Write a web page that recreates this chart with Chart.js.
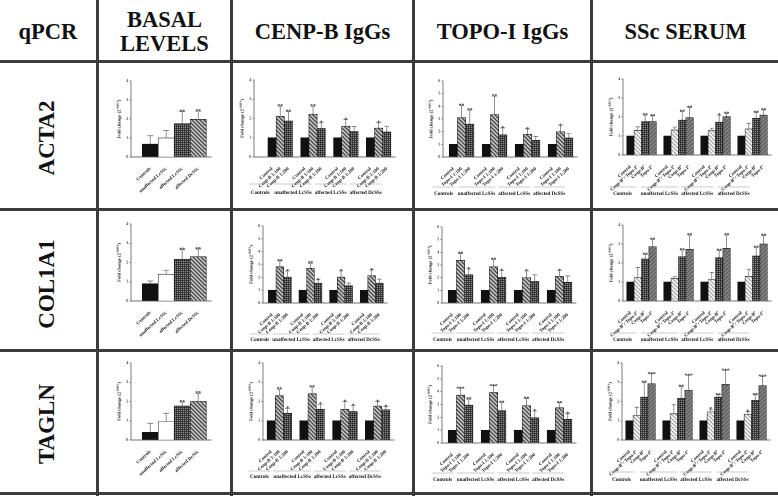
<!DOCTYPE html>
<html>
<head>
<meta charset="utf-8">
<script src="https://cdn.jsdelivr.net/npm/chart.js@4.4.0/dist/chart.umd.min.js"></script>
<style>
  body { margin: 0; width: 778px; height: 496px; overflow: hidden; position: relative; background: #fff;
         font-family: "Liberation Serif", "DejaVu Serif", serif; color: #111; }
  .vl, .hl { position: absolute; background: #3c3c3c; z-index: 5; }
  .head { position: absolute; top: 0; height: 61px; display: flex; align-items: center; justify-content: center;
          text-align: center; font-weight: bold; font-size: 22.5px; line-height: 24px; padding-top: 3px; box-sizing: border-box; }
  .gene { position: absolute; left: 47px; font-weight: bold; font-size: 23px; white-space: nowrap;
          transform: translate(-50%, -50%) rotate(-90deg); }
  canvas { position: absolute; }
</style>
</head>
<body>
<div class="vl" style="left:96px;top:0;width:3px;height:496px"></div>
<div class="vl" style="left:230px;top:0;width:3px;height:496px"></div>
<div class="vl" style="left:412px;top:0;width:3px;height:496px"></div>
<div class="vl" style="left:590px;top:0;width:3px;height:496px"></div>
<div class="hl" style="left:0;top:60px;width:778px;height:3px"></div>
<div class="hl" style="left:0;top:208px;width:778px;height:3px"></div>
<div class="hl" style="left:0;top:349px;width:778px;height:3px"></div>
<div class="hl" style="left:0;top:492px;width:778px;height:3px"></div>

<div class="head" style="left:0;width:96px">qPCR</div>
<div class="head" style="left:99px;width:131px">BASAL<br>LEVELS</div>
<div class="head" style="left:233px;width:179px">CENP-B IgGs</div>
<div class="head" style="left:415px;width:175px">TOPO-I IgGs</div>
<div class="head" style="left:593px;width:185px">SSc SERUM</div>

<div class="gene" style="top:138px">ACTA2</div>
<div class="gene" style="top:284px">COL1A1</div>
<div class="gene" style="top:424px">TAGLN</div>

<canvas id="c11"></canvas><canvas id="c12"></canvas><canvas id="c13"></canvas><canvas id="c14"></canvas>
<canvas id="c21"></canvas><canvas id="c22"></canvas><canvas id="c23"></canvas><canvas id="c24"></canvas>
<canvas id="c31"></canvas><canvas id="c32"></canvas><canvas id="c33"></canvas><canvas id="c34"></canvas>

<script>
// categories
const basalCats = ['Controls', 'unaffected LcSSc', 'affected LcSSc', 'affected DcSSc'];
const cenpCats = ['Control', 'Cenp-B 1:100', 'Cenp-B 1:200'];
const topoCats = ['Control', 'Topo-I 1:100', 'Topo-I 1:200'];
const serumCats = ['Control', 'Cenp-B\u207A/ Topo-I\u207A', 'Cenp-B\u207A', 'Topo-I\u207A'];
const groupNames = ['Controls', 'unaffected LcSSs', 'affected LcSSs', 'affected DcSSs'];
const yTicks4 = [0, 1, 2, 3, 4];
const yTicks6 = [0, 1, 2, 3, 4, 5, 6];

// ACTA2
const acta2Basal = [0.68, 1.0, 1.75, 1.98];
const acta2BasalErr = [0.44, 0.4, 0.65, 0.43];
const acta2BasalSig = ['', '', '**', '**'];
const acta2Cenp = [1, 2.12, 1.87, 1, 2.22, 1.48, 1, 1.6, 1.33, 1, 1.5, 1.3];
const acta2CenpErr = [0, 0.52, 0.5, 0, 0.42, 0.3, 0, 0.35, 0.26, 0, 0.28, 0.3];
const acta2CenpSig = ['', '**', '**', '', '**', '*', '', '*', '', '', '*', ''];
const acta2Topo = [1, 3.1, 2.6, 1, 3.35, 1.75, 1, 1.8, 1.32, 1, 2.0, 1.5];
const acta2TopoErr = [0, 0.95, 1.1, 0, 1.45, 0.55, 0, 0.42, 0.3, 0, 0.5, 0.35];
const acta2TopoSig = ['', '**', '**', '', '**', '*', '', '*', '', '', '*', ''];
const acta2Serum = [1, 1.3, 1.76, 1.76, 1, 1.32, 1.84, 1.97, 1, 1.29, 1.72, 2.02, 1, 1.37, 1.93, 2.1];
const acta2SerumErr = [0, 0.18, 0.34, 0.3, 0, 0.15, 0.44, 0.53, 0, 0.12, 0.38, 0.17, 0, 0.3, 0.3, 0.27];
const acta2SerumSig = ['', '', '**', '**', '', '', '**', '**', '', '', '*', '**', '', '', '**', '**'];

// COL1A1
const col1a1Basal = [0.9, 1.39, 2.17, 2.3];
const col1a1BasalErr = [0.14, 0.21, 0.5, 0.4];
const col1a1BasalSig = ['', '', '**', '**'];
const col1a1Cenp = [1, 2.82, 2.02, 1, 2.71, 1.55, 1, 2.02, 1.34, 1, 2.14, 1.55];
const col1a1CenpErr = [0, 0.46, 0.48, 0, 0.39, 0.26, 0, 0.48, 0.21, 0, 0.44, 0.31];
const col1a1CenpSig = ['', '**', '*', '', '**', '*', '', '*', '', '', '*', ''];
const col1a1Topo = [1, 3.37, 2.22, 1, 2.87, 2.04, 1, 2.01, 1.7, 1, 2.11, 1.64];
const col1a1TopoErr = [0, 0.55, 0.47, 0, 0.58, 0.52, 0, 0.52, 0.52, 0, 0.47, 0.5];
const col1a1TopoSig = ['', '**', '*', '', '**', '*', '', '*', '', '', '*', ''];
const col1a1Serum = [1, 1.23, 2.21, 2.86, 1, 1.19, 2.33, 2.72, 1, 1.12, 2.28, 2.77, 1, 1.3, 2.37, 3.0];
const col1a1SerumErr = [0, 0.54, 0.25, 0.39, 0, 0.09, 0.35, 0.75, 0, 0.38, 0.37, 0.7, 0, 0.37, 0.45, 0.44];
const col1a1SerumSig = ['', '', '**', '**', '', '', '**', '**', '', '', '**', '**', '', '', '**', '**'];

// TAGLN
const taglnBasal = [0.4, 0.96, 1.77, 2.0];
const taglnBasalErr = [0.47, 0.43, 0.2, 0.43];
const taglnBasalSig = ['', '', '**', '**'];
const taglnCenp = [1, 2.3, 1.39, 1, 2.4, 1.6, 1, 1.6, 1.48, 1, 1.76, 1.57];
const taglnCenpErr = [0, 0.34, 0.26, 0, 0.35, 0.26, 0, 0.4, 0.31, 0, 0.24, 0.17];
const taglnCenpSig = ['', '**', '*', '', '**', '*', '', '*', '*', '', '*', '*'];
const taglnTopo = [1, 3.73, 2.95, 1, 3.94, 2.53, 1, 2.9, 1.96, 1, 2.74, 1.85];
const taglnTopoErr = [0, 0.53, 0.47, 0, 0.52, 0.63, 0, 0.57, 0.54, 0, 0.39, 0.45];
const taglnTopoSig = ['', '***', '**', '', '***', '**', '', '**', '*', '', '**', '*'];
const taglnSerum = [1, 1.27, 2.23, 2.92, 1, 1.36, 2.17, 2.59, 1, 1.46, 2.23, 2.9, 1, 1.34, 2.07, 2.82];
const taglnSerumErr = [0, 0.43, 0.77, 0.52, 0, 0.47, 0.61, 0.77, 0, 0.14, 0.12, 0.7, 0, 0.14, 0.28, 0.48];
const taglnSerumSig = ['', '', '**', '***', '', '', '**', '***', '', '*', '**', '***', '', '*', '**', '***'];

// bar fills
function makePattern(kind) {
    const c = document.createElement('canvas');
    c.width = 4; c.height = 4;
    const g = c.getContext('2d');
    if (kind === 'checker') {
        g.fillStyle = '#1c1c1c'; g.fillRect(0, 0, 4, 4);
        g.fillStyle = '#e6e6e6';
        g.fillRect(0, 0, 1, 1); g.fillRect(2, 0, 1, 1); g.fillRect(0, 2, 1, 1); g.fillRect(2, 2, 1, 1);
    } else {
        const bg = kind === 'gray' ? '#9a9a9a' : '#fff';
        const fg = kind === 'gray' ? '#4a4a4a' : (kind === 'thin' ? '#333' : '#111');
        g.fillStyle = bg; g.fillRect(0, 0, 4, 4);
        g.strokeStyle = fg;
        g.lineWidth = kind === 'thin' ? 0.8 : 1.3;
        g.beginPath();
        if (kind === 'gray') {
            g.moveTo(-1, 5); g.lineTo(5, -1); g.moveTo(-1, 1); g.lineTo(1, -1); g.moveTo(3, 5); g.lineTo(5, 3);
        } else {
            g.moveTo(-1, -1); g.lineTo(5, 5); g.moveTo(-1, 3); g.lineTo(1, 5); g.moveTo(3, -1); g.lineTo(5, 1);
        }
        g.stroke();
    }
    return g.createPattern(c, 'repeat');
}
const BLACK = '#111', WHITE = '#fff';
const CHECK = makePattern('checker'), BACK = makePattern('back');
const THIN = makePattern('thin'), GRAYF = makePattern('gray');
const basalFills = [BLACK, WHITE, CHECK, BACK];
const ivigFills = [BLACK, BACK, CHECK];
const serumFills = [BLACK, THIN, CHECK, GRAYF];

const FONT = 'Liberation Serif';
const YW = 14;

const extras = {
    id: 'extras',
    afterDatasetsDraw(chart) {
        const ctx = chart.ctx, ds = chart.data.datasets[0], ys = chart.scales.y;
        ctx.save();
        chart.getDatasetMeta(0).data.forEach((bar, i) => {
            let top = bar.y;
            const e = ds.err[i];
            if (e > 0) {
                top = ys.getPixelForValue(ds.data[i].y + e);
                const cap = Math.min(bar.width * 0.3, 3);
                ctx.strokeStyle = '#666';
                ctx.lineWidth = 0.7;
                ctx.beginPath();
                ctx.moveTo(bar.x, bar.y); ctx.lineTo(bar.x, top);
                ctx.moveTo(bar.x - cap, top); ctx.lineTo(bar.x + cap, top);
                ctx.stroke();
            }
            if (ds.sig[i]) {
                ctx.fillStyle = '#222';
                ctx.font = 'bold 5.5px "' + FONT + '"';
                ctx.textAlign = 'center';
                ctx.textBaseline = 'alphabetic';
                ctx.fillText(ds.sig[i], bar.x, top + 1.5);
            }
        });
        ctx.restore();
    },
    afterDraw(chart) {
        const ctx = chart.ctx, a = chart.chartArea, xs = chart.scales.x;
        const spec = chart.options.plugins.extras;
        ctx.save();
        // y title with superscript
        ctx.translate(a.left - 12, (a.top + a.bottom) / 2);
        ctx.rotate(-Math.PI / 2);
        ctx.fillStyle = '#111';
        ctx.textBaseline = 'alphabetic';
        const f1 = 'bold 4.6px "' + FONT + '"', f2 = 'bold 3.2px "' + FONT + '"';
        const p1 = 'Fold change (2', p2 = '-\u0394\u0394Ct', p3 = ')';
        ctx.font = f1; const w1 = ctx.measureText(p1).width, w3 = ctx.measureText(p3).width;
        ctx.font = f2; const w2 = ctx.measureText(p2).width;
        let x0 = -(w1 + w2 + w3) / 2;
        ctx.font = f1; ctx.textAlign = 'left';
        ctx.fillText(p1, x0, 1.5);
        ctx.font = f2; ctx.fillText(p2, x0 + w1, -0.6);
        ctx.font = f1; ctx.fillText(p3, x0 + w1 + w2, 1.5);
        ctx.restore();

        if (!spec.groups) return;
        const n = spec.n;
        ctx.save();
        ctx.font = 'bold 5.1px "' + FONT + '"';
        // label centres under the slanted tick labels, pushed apart so they do not overlap
        let prevRight = -Infinity;
        groupNames.forEach((name, g) => {
            const first = g * (n + 1) + 1, last = first + n - 1;
            const s = xs.getPixelForValue(first - 0.5), e = xs.getPixelForValue(last + 0.5);
            const lw = ctx.measureText(name).width;
            let c = (s + e) / 2 - spec.shift;
            if (c - lw / 2 < prevRight + 3) c = prevRight + 3 + lw / 2;
            prevRight = c + lw / 2;
            const half = Math.max(lw, e - s - 3) / 2;
            ctx.strokeStyle = '#999';
            ctx.lineWidth = 0.6;
            ctx.beginPath();
            ctx.moveTo(c - half, a.bottom + spec.lineDy); ctx.lineTo(c + half, a.bottom + spec.lineDy);
            ctx.stroke();
            ctx.fillStyle = '#111';
            ctx.textAlign = 'center';
            ctx.fillText(name, c, a.bottom + spec.labelDy);
        });
        ctx.restore();
    }
};

function buildChart(id, cell, plot, spec) {
    const cv = document.getElementById(id);
    const [cx, cy, cw, ch] = cell;
    cv.width = cw; cv.height = ch;
    cv.style.left = cx + 'px'; cv.style.top = cy + 'px';
    cv.style.width = cw + 'px'; cv.style.height = ch + 'px';
    const [l, t, r, b] = plot;
    const n = spec.cats.length;
    const pos = spec.values.map((v, i) => Math.floor(i / n) * (n + 1) + (i % n) + 1);
    const labelAt = {};
    pos.forEach((p, i) => { labelAt[p] = spec.cats[i % n]; });
    const XH = cy + ch - b;

    new Chart(cv, {
        type: 'bar',
        data: {
            datasets: [{
                data: spec.values.map((v, i) => ({ x: pos[i], y: v })),
                err: spec.err,
                sig: spec.sig,
                backgroundColor: spec.values.map((v, i) => spec.fills[i % n]),
                borderColor: '#111',
                borderWidth: 0.6,
                barPercentage: 1,
                categoryPercentage: 1
            }]
        },
        options: {
            responsive: false,
            animation: false,
            devicePixelRatio: 2,
            layout: { padding: { left: l - cx - YW, top: t - cy, right: cx + cw - r, bottom: 0 } },
            plugins: {
                legend: { display: false },
                tooltip: { enabled: false },
                extras: { groups: spec.groups, n: n, shift: spec.shift || 0, lineDy: spec.lineDy || 0, labelDy: spec.labelDy || 0 }
            },
            scales: {
                x: {
                    type: 'linear',
                    min: spec.xMin,
                    max: spec.xMax,
                    offset: false,
                    grid: { display: false },
                    border: { display: true, color: '#444', width: 0.7 },
                    afterBuildTicks: s => { s.ticks = pos.map(v => ({ value: v })); },
                    afterFit: s => { s.height = XH; s.paddingLeft = 0; s.paddingRight = 0; },
                    ticks: {
                        autoSkip: false, minRotation: 42, maxRotation: 42, padding: 1,
                        color: '#1a1a1a', font: { family: FONT, weight: 'bold', size: 4.8 },
                        callback: v => labelAt[v] || ''
                    }
                },
                y: {
                    min: 0,
                    max: spec.yTicks[spec.yTicks.length - 1],
                    afterBuildTicks: s => { s.ticks = spec.yTicks.map(v => ({ value: v })); },
                    afterFit: s => { s.width = YW; s.paddingTop = 0; s.paddingBottom = 0; },
                    grid: { drawOnChartArea: false, drawTicks: true, tickLength: 2, color: '#555', lineWidth: 0.5 },
                    border: { display: true, color: '#444', width: 0.7 },
                    ticks: { padding: 1, color: '#333', font: { family: FONT, weight: 'bold', size: 3.6 } }
                }
            }
        },
        plugins: [extras]
    });
}

const cells = {
    c1: [99, 130], c2: [233, 178], c3: [415, 174], c4: [593, 185],
    r1: [63, 144], r2: [211, 137], r3: [352, 139]
};
function cell(c, r) { return [cells[c][0], cells[r][0], cells[c][1], cells[r][1]]; }

const cenpGrp = { groups: true, shift: 20, lineDy: 27, labelDy: 37 };
const topoGrp = { groups: true, shift: 18, lineDy: 30, labelDy: 38 };
const serumGrp = { groups: true, shift: 19, lineDy: 32, labelDy: 40 };

// ACTA2 row
buildChart('c11', cell('c1', 'r1'), [131, 81, 211, 157],
    { cats: basalCats, values: acta2Basal, err: acta2BasalErr, sig: acta2BasalSig, fills: basalFills, yTicks: yTicks4, xMin: -0.2, xMax: 4.8 });
buildChart('c12', cell('c2', 'r1'), [254, 80, 395, 157],
    Object.assign({ cats: cenpCats, values: acta2Cenp, err: acta2CenpErr, sig: acta2CenpSig, fills: ivigFills, yTicks: yTicks4, xMin: -1.2, xMax: 16 }, cenpGrp));
buildChart('c13', cell('c3', 'r1'), [443, 81, 577, 157],
    Object.assign({ cats: topoCats, values: acta2Topo, err: acta2TopoErr, sig: acta2TopoSig, fills: ivigFills, yTicks: yTicks6, xMin: -0.25, xMax: 16 }, topoGrp));
buildChart('c14', cell('c4', 'r1'), [623, 79, 771, 155],
    Object.assign({ cats: serumCats, values: acta2Serum, err: acta2SerumErr, sig: acta2SerumSig, fills: serumFills, yTicks: yTicks4, xMin: 0, xMax: 20 }, serumGrp));

// COL1A1 row
buildChart('c21', cell('c1', 'r2'), [131, 224, 211, 301],
    { cats: basalCats, values: col1a1Basal, err: col1a1BasalErr, sig: col1a1BasalSig, fills: basalFills, yTicks: yTicks4, xMin: -0.2, xMax: 4.8 });
buildChart('c22', cell('c2', 'r2'), [263, 226, 387, 303],
    Object.assign({ cats: cenpCats, values: col1a1Cenp, err: col1a1CenpErr, sig: col1a1CenpSig, fills: ivigFills, yTicks: yTicks6, xMin: -0.2, xMax: 16 }, cenpGrp, { lineDy: 31, labelDy: 38 }));
buildChart('c23', cell('c3', 'r2'), [442, 227, 576, 303],
    Object.assign({ cats: topoCats, values: col1a1Topo, err: col1a1TopoErr, sig: col1a1TopoSig, fills: ivigFills, yTicks: yTicks6, xMin: -0.25, xMax: 16 }, topoGrp));
buildChart('c24', cell('c4', 'r2'), [623, 225, 771, 301],
    Object.assign({ cats: serumCats, values: col1a1Serum, err: col1a1SerumErr, sig: col1a1SerumSig, fills: serumFills, yTicks: yTicks4, xMin: 0, xMax: 20 }, serumGrp));

// TAGLN row
buildChart('c31', cell('c1', 'r3'), [131, 363, 211, 440],
    { cats: basalCats, values: taglnBasal, err: taglnBasalErr, sig: taglnBasalSig, fills: basalFills, yTicks: yTicks4, xMin: -0.2, xMax: 4.8 });
buildChart('c32', cell('c2', 'r3'), [263, 363, 394, 440],
    Object.assign({ cats: cenpCats, values: taglnCenp, err: taglnCenpErr, sig: taglnCenpSig, fills: ivigFills, yTicks: yTicks4, xMin: 0, xMax: 16 }, cenpGrp, { lineDy: 31, labelDy: 38 }));
buildChart('c33', cell('c3', 'r3'), [442, 366, 576, 443],
    Object.assign({ cats: topoCats, values: taglnTopo, err: taglnTopoErr, sig: taglnTopoSig, fills: ivigFills, yTicks: yTicks6, xMin: -0.25, xMax: 16 }, topoGrp));
buildChart('c34', cell('c4', 'r3'), [622, 363, 770, 440],
    Object.assign({ cats: serumCats, values: taglnSerum, err: taglnSerumErr, sig: taglnSerumSig, fills: serumFills, yTicks: yTicks4, xMin: 0, xMax: 20 }, serumGrp, { labelDy: 41 }));
</script>
</body>
</html>
